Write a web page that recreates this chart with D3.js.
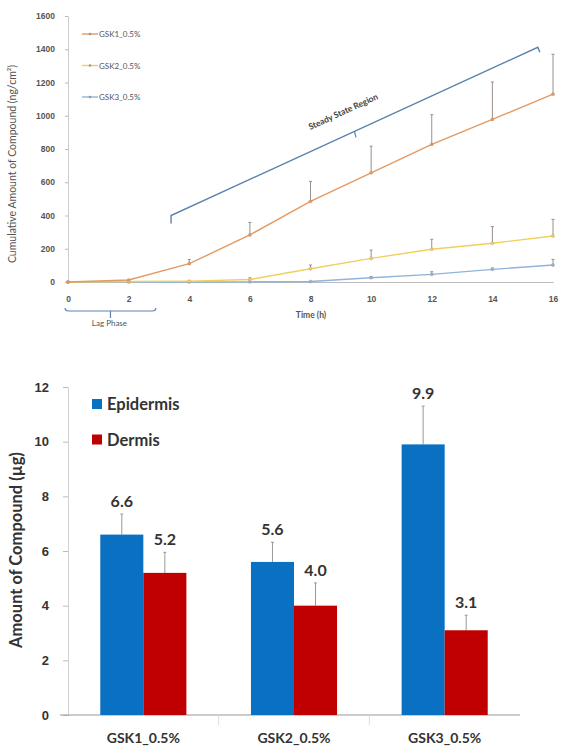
<!DOCTYPE html>
<html>
<head>
<meta charset="utf-8">
<script src="https://cdn.jsdelivr.net/npm/d3@7"></script>
<style>
  body { margin: 0; background: #fff; }
  svg { display: block; }
</style>
</head>
<body>
<div id="chart"></div>
<script>
// ---- top panel data: cumulative permeation ----
const hours = [0, 2, 4, 6, 8, 10, 12, 14, 16];
const gsk1Mean = [0, 12, 110, 283, 485, 657, 828, 978, 1130];
const gsk1Err = [0, 0, 25, 75, 120, 160, 178, 225, 240];
const gsk2Mean = [0, 3, 5, 15, 80, 142, 197, 233, 277];
const gsk2Err = [0, 0, 0, 10, 22, 50, 60, 100, 100];
const gsk3Mean = [0, 0, 0, 1, 3, 26, 46, 76, 102];
const gsk3Err = [0, 0, 0, 0, 0, 6, 16, 8, 34];
const lineNames = ["GSK1_0.5%", "GSK2_0.5%", "GSK3_0.5%"];
const xTicks = [0, 2, 4, 6, 8, 10, 12, 14, 16];
const yTicks = [0, 200, 400, 600, 800, 1000, 1200, 1400, 1600];
// annotation brackets, in data units (h, ng/cm2)
const steadyStart = [3.4, 400];
const steadyEnd = [15.5, 1412];
const lagRange = [0, 2.9];

// ---- bottom panel data: skin retention ----
const groups = ["GSK1_0.5%", "GSK2_0.5%", "GSK3_0.5%"];
const layers = ["Epidermis", "Dermis"];
const epidermis = [6.6, 5.6, 9.9];
const epidermisErr = [0.75, 0.72, 1.4];
const dermis = [5.2, 4.0, 3.1];
const dermisErr = [0.75, 0.83, 0.55];
const barTicks = [0, 2, 4, 6, 8, 10, 12];

const width = 562, height = 749;
const lineColors = ["#e39a62", "#f2cf5c", "#8fb5d8"];
const barColors = ["#0a70c2", "#c00000"];

const svg = d3.select("#chart").append("svg")
  .attr("width", width).attr("height", height);

// ================= top panel =================
const x = d3.scaleLinear().domain([0, 16]).range([68, 553]);
const y = d3.scaleLinear().domain([0, 1600]).range([282, 16]);
const topG = svg.append("g").style("font-family", "Lato, 'Open Sans', sans-serif");

// axes
const yAx = topG.append("g").attr("transform", `translate(${x(0)},0)`)
  .call(d3.axisLeft(y).tickValues(yTicks).tickFormat(d3.format("d")).tickSize(3).tickPadding(10));
yAx.select(".domain").attr("stroke", "#ccc");
yAx.selectAll(".tick line").attr("stroke", "#bbb");
yAx.selectAll("text").attr("font-size", 8.5).attr("font-weight", "bold").attr("fill", "#555");

const xAx = topG.append("g").attr("transform", `translate(0,${y(0)})`)
  .call(d3.axisBottom(x).tickValues(xTicks).tickSize(0).tickPadding(14));
xAx.select(".domain").attr("stroke", "#bbb");
xAx.selectAll("text").attr("font-size", 8.5).attr("font-weight", "bold").attr("fill", "#555");

topG.append("text")
  .attr("transform", `translate(16,${(y(0) + y(1600)) / 2 + 15}) rotate(-90)`)
  .attr("text-anchor", "middle").attr("font-size", 10.5).attr("fill", "#555")
  .text("Cumulative Amount of Compound  (ng/cm²)");

topG.append("text").attr("x", 311).attr("y", 318)
  .attr("text-anchor", "middle").attr("font-size", 8.5).attr("font-weight", "bold").attr("fill", "#555")
  .text("Time (h)");

// series
const series = [
  { name: lineNames[0], mean: gsk1Mean, err: gsk1Err, color: lineColors[0] },
  { name: lineNames[1], mean: gsk2Mean, err: gsk2Err, color: lineColors[1] },
  { name: lineNames[2], mean: gsk3Mean, err: gsk3Err, color: lineColors[2] }
];
const line = d3.line().x((d, i) => x(hours[i])).y(d => y(d));

series.slice().reverse().forEach(s => {
  const g = topG.append("g");
  // error bars (upper)
  hours.forEach((h, i) => {
    if (s.err[i] <= 0) return;
    const hi = y(s.mean[i] + s.err[i]);
    g.append("line").attr("x1", x(h)).attr("x2", x(h))
      .attr("y1", y(s.mean[i])).attr("y2", hi)
      .attr("stroke", "#9a8f8a").attr("stroke-width", 1);
    g.append("line").attr("x1", x(h) - 1.5).attr("x2", x(h) + 1.5)
      .attr("y1", hi).attr("y2", hi).attr("stroke", "#9a8f8a");
  });
  g.append("path").datum(s.mean).attr("d", line)
    .attr("fill", "none").attr("stroke", s.color).attr("stroke-width", 1.4);
  g.selectAll("circle").data(s.mean).join("circle")
    .attr("cx", (d, i) => x(hours[i])).attr("cy", d => y(d))
    .attr("r", 1.6).attr("fill", s.color).attr("stroke", "#a88").attr("stroke-width", 0.3);
});

// legend
const leg = topG.append("g");
series.forEach((s, i) => {
  const ly = 34 + i * 31.5;
  leg.append("line").attr("x1", 82).attr("x2", 98).attr("y1", ly).attr("y2", ly)
    .attr("stroke", s.color).attr("stroke-width", 1.4);
  leg.append("circle").attr("cx", 90).attr("cy", ly).attr("r", 1.3).attr("fill", "#999");
  leg.append("text").attr("x", 99).attr("y", ly + 3)
    .attr("font-size", 8).attr("fill", "#555").text(s.name);
});

// steady-state bracket
const bracketColor = "#5a83ad";
const p0 = [x(steadyStart[0]), y(steadyStart[1])];
const p1 = [x(steadyEnd[0]), y(steadyEnd[1])];
topG.append("path")
  .attr("d", `M${p0[0]},${p0[1] + 8} L${p0[0]},${p0[1]} L${p1[0]},${p1[1]} L${p1[0] + 2},${p1[1] + 5}`)
  .attr("fill", "none").attr("stroke", bracketColor).attr("stroke-width", 1.4);
const mid = [p0[0] + (p1[0] - p0[0]) * 0.5, p0[1] + (p1[1] - p0[1]) * 0.5];
topG.append("line").attr("x1", mid[0]).attr("y1", mid[1]).attr("x2", mid[0] + 1.5).attr("y2", mid[1] + 6)
  .attr("stroke", bracketColor).attr("stroke-width", 1.2);
const angle = Math.atan2(p1[1] - p0[1], p1[0] - p0[0]) * 180 / Math.PI;
topG.append("text")
  .attr("transform", `translate(${mid[0] - 10},${mid[1] - 17}) rotate(${angle})`)
  .attr("text-anchor", "middle").attr("font-size", 8.5).attr("font-weight", "bold").attr("fill", "#444")
  .text("Steady State Region");

// lag-phase bracket
const lx0 = x(lagRange[0]) - 3, lx1 = x(lagRange[1]), lb = 311;
topG.append("path")
  .attr("d", `M${lx0},${lb - 3} Q${lx0},${lb} ${lx0 + 4},${lb} L${lx1 - 4},${lb} Q${lx1},${lb} ${lx1},${lb - 3}`)
  .attr("fill", "none").attr("stroke", bracketColor).attr("stroke-width", 1.2);
const lmid = (lx0 + lx1) / 2;
topG.append("line").attr("x1", lmid).attr("x2", lmid).attr("y1", lb).attr("y2", lb + 7)
  .attr("stroke", bracketColor).attr("stroke-width", 1.2);
topG.append("text").attr("x", lmid - 1).attr("y", 326)
  .attr("text-anchor", "middle").attr("font-size", 8).attr("fill", "#555").text("Lag Phase");

// ================= bottom panel =================
const bottomG = svg.append("g").style("font-family", "Lato, 'Open Sans', sans-serif");
const x0 = d3.scaleBand().domain(groups).range([68, 520]).padding(0);
const x1 = d3.scaleBand().domain(layers).range([0, x0.bandwidth()]).paddingInner(0).paddingOuter(0.75);
const yb = d3.scaleLinear().domain([0, 12]).range([715, 387]);

const ybAx = bottomG.append("g").attr("transform", `translate(${x0.range()[0]},0)`)
  .call(d3.axisLeft(yb).tickValues(barTicks).tickSize(5).tickPadding(14));
ybAx.select(".domain").attr("stroke", "#d0d0d0");
ybAx.selectAll(".tick line").attr("stroke", "#bbb");
ybAx.selectAll("text").attr("font-size", 13).attr("font-weight", "bold").attr("fill", "#333");

// x axis with category separators
bottomG.append("line").attr("x1", 60).attr("x2", 520).attr("y1", yb(0)).attr("y2", yb(0))
  .attr("stroke", "#999").attr("stroke-width", 1);
groups.forEach((gname, i) => {
  if (i > 0) {
    bottomG.append("line").attr("x1", x0(gname)).attr("x2", x0(gname))
      .attr("y1", yb(0)).attr("y2", yb(0) + 10).attr("stroke", "#ddd");
  }
  bottomG.append("text").attr("x", x0(gname) + x0.bandwidth() / 2).attr("y", 743)
    .attr("text-anchor", "middle").attr("font-size", 14).attr("font-weight", "bold").attr("fill", "#333")
    .text(gname);
});

bottomG.append("text")
  .attr("transform", `translate(22,${550}) rotate(-90)`)
  .attr("text-anchor", "middle").attr("font-size", 16.5).attr("font-weight", "bold").attr("fill", "#333")
  .text("Amount of Compound (µg)");

const barRows = [];
groups.forEach((gname, i) => {
  barRows.push({ group: gname, layer: layers[0], v: epidermis[i], e: epidermisErr[i] });
  barRows.push({ group: gname, layer: layers[1], v: dermis[i], e: dermisErr[i] });
});
const colorOf = d3.scaleOrdinal().domain(layers).range(barColors);

const bars = bottomG.append("g").selectAll("g").data(barRows).join("g")
  .attr("transform", d => `translate(${x0(d.group) + x1(d.layer)},0)`);
// error bars behind bars
bars.append("line")
  .attr("x1", x1.bandwidth() / 2).attr("x2", x1.bandwidth() / 2)
  .attr("y1", d => yb(d.v)).attr("y2", d => yb(d.v + d.e))
  .attr("stroke", "#999").attr("stroke-width", 1);
bars.append("line")
  .attr("x1", x1.bandwidth() / 2 - 1.5).attr("x2", x1.bandwidth() / 2 + 1.5)
  .attr("y1", d => yb(d.v + d.e)).attr("y2", d => yb(d.v + d.e))
  .attr("stroke", "#999");
bars.append("rect")
  .attr("x", 0).attr("width", x1.bandwidth())
  .attr("y", d => yb(d.v)).attr("height", d => yb(0) - yb(d.v))
  .attr("fill", d => colorOf(d.layer));
bars.append("text")
  .attr("x", x1.bandwidth() / 2).attr("y", d => yb(d.v + d.e) - 7)
  .attr("text-anchor", "middle").attr("font-size", 16).attr("font-weight", "bold").attr("fill", "#333")
  .text(d => d.v.toFixed(1));

// legend
layers.forEach((l, i) => {
  const ly = 404 + i * 35.5;
  bottomG.append("rect").attr("x", 92).attr("y", ly - 5).attr("width", 10).attr("height", 10)
    .attr("fill", barColors[i]);
  bottomG.append("text").attr("x", 107).attr("y", ly + 6)
    .attr("font-size", 16.5).attr("font-weight", "bold").attr("fill", "#333").text(l);
});
</script>
</body>
</html>
